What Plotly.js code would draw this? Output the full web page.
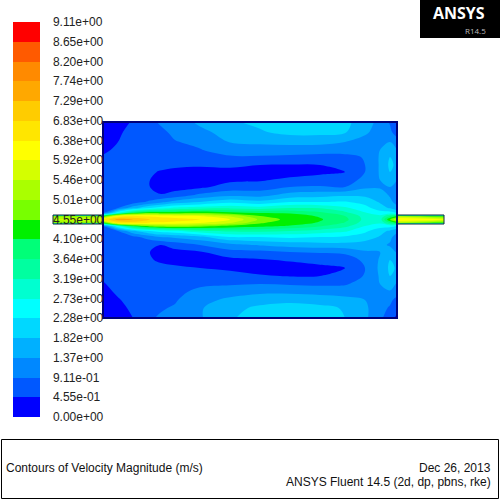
<!DOCTYPE html>
<html>
<head>
<meta charset="utf-8">
<script src="https://cdn.plot.ly/plotly-3.0.1.min.js"></script>
<style>
	html, body { margin: 0; padding: 0; background: #fff; }
	#chart { width: 500px; height: 500px; }
</style>
</head>
<body>
<div id="chart"></div>
<script>
// contour level of one band in m/s, the tables below are read as band numbers
var band_size = 0.4555;

var tick_labels = ['0.00e+00', '4.55e-01', '9.11e-01', '1.37e+00', '1.82e+00', '2.28e+00', '2.73e+00',
	'3.19e+00', '3.64e+00', '4.10e+00', '4.55e+00', '5.01e+00', '5.46e+00', '5.92e+00', '6.38e+00',
	'6.83e+00', '7.29e+00', '7.74e+00', '8.20e+00', '8.65e+00', '9.11e+00'];

var band_colors = ['#0000ff', '#0058ff', '#0088ff', '#00b0ff', '#00d8ff', '#00ffff', '#00ffd0', '#00ffa0',
	'#00ff78', '#00f000', '#78ff00', '#aaff00', '#d4ff00', '#ffff00', '#ffe600', '#ffcc00',
	'#ffa800', '#ff8a00', '#ff5a00', '#ff0000'];

// chamber
var chamber_x = [103, 118, 133, 150, 160, 175, 200, 230, 260, 290, 320, 345, 365, 380, 390, 397];
var chamber_y = [122, 132, 142, 150, 157, 165, 172, 180, 187, 195, 202, 208, 213, 216, 219.5, 223, 226,
	231, 237, 245, 252, 260, 268, 276, 284, 292, 300, 308, 318];

// one list per chamber_x, top wall to bottom wall
var chamber_bands = [
	[.2, .4, .6, .8, 1.1, 1.3, 1.4, 1.4, 1.4, 1.5, 1.5, 1.6, 1.8, 9, 14, 9, 2, 1.6, 1.5, 1.5, 1.4, 1.4, 1.4, 1.2, .9, .6, .4, .3, .1],
	[.6, .8, 1, 1.2, 1.4, 1.5, 1.5, 1.5, 1.5, 1.5, 1.5, 2, 6, 13.5, 16.5, 14, 6, 2, 1.5, 1.5, 1.5, 1.5, 1.5, 1.5, 1.4, 1.2, .9, .7, .5],
	[1.1, 1.4, 1.5, 1.4, 1.4, 1.4, 1.4, 1.4, 1.4, 1.4, 1.5, 3.6, 9, 14, 16, 14.5, 9, 3.8, 1.7, 1.5, 1.5, 1.5, 1.5, 1.5, 1.5, 1.5, 1.4, 1.2, 1],
	[1.8, 1.6, 1.5, 1.4, 1.3, 1.2, 1.1, 1, 1, 1.2, 2.2, 5, 10, 13.8, 15, 13.8, 10.5, 5, 2.5, 1.1, 1, 1.1, 1.3, 1.5, 1.5, 1.6, 1.7, 1.8, 1.9],
	[2.1, 1.8, 1.65, 1.5, 1.35, 1.2, .95, .7, .7, 1.05, 2.7, 5.5, 9.8, 13.6, 14.8, 13.8, 10.8, 5.4, 3, 1, .7, .85, 1.3, 1.5, 1.6, 1.6, 1.8, 1.9, 2.1],
	[2.5, 2.2, 1.95, 1.7, 1.4, 1.15, .8, .6, .7, 1.3, 3.4, 6.2, 9.7, 13.4, 14.5, 13.6, 11, 5.8, 3.2, 1.4, .7, .6, 1.2, 1.5, 1.6, 1.7, 1.9, 2.1, 2.4],
	[3.2, 2.75, 2.2, 1.95, 1.6, 1.1, .7, .6, .8, 2.2, 4, 6.5, 10, 13, 14, 13, 10.5, 6.8, 3.7, 2, .9, .6, 1, 1.6, 1.8, 2.3, 2.7, 2.9, 2.9],
	[3.9, 3.4, 3.05, 2.4, 1.9, 1.2, .7, .8, 1.4, 2.7, 4.7, 6.8, 9.4, 11.8, 13, 12, 9.7, 7.2, 5, 2.6, 1.7, .7, .8, 1.4, 1.9, 2.6, 3.2, 3.7, 3.9],
	[4.2, 3.9, 3.2, 2.5, 1.9, 1, .6, .9, 1.5, 2.6, 4.3, 6.5, 9, 10, 10.8, 10.1, 9.3, 7.3, 5, 3.1, 1.7, .9, .6, 1.1, 2, 2.8, 3.6, 4.2, 4.4],
	[4.6, 4.3, 3.3, 2.5, 1.8, .95, .6, 1.2, 2, 3.4, 5, 7, 8.9, 9.4, 9.6, 9.4, 8.9, 7, 5.2, 3.4, 2, 1.1, .6, .95, 1.9, 2.8, 3.7, 4.5, 4.6],
	[4.7, 4.3, 3.3, 2.4, 1.7, 1, .8, 1.4, 2.1, 3.6, 5, 6.9, 8.3, 8.9, 9.1, 8.9, 8.1, 6.6, 5, 3.6, 2.1, 1.3, .8, 1, 1.8, 2.7, 3.5, 4.3, 4.4],
	[4.2, 4.1, 3, 2.3, 1.8, 1.2, 1, 1.5, 2, 3.8, 5.1, 6.2, 7.3, 8, 8.3, 7.9, 7.3, 6.2, 4.8, 3.7, 2.2, 1.5, 1, 1.2, 1.9, 2.6, 3.3, 3.9, 4],
	[3.6, 3.2, 2.6, 2.3, 2.05, 2, 2, 2.3, 2.8, 3.8, 4.6, 5.4, 6.1, 6.6, 6.7, 6.5, 6, 5.2, 4.5, 3.5, 2.9, 2.2, 2, 2.1, 2.4, 2.7, 3, 3.2, 3.2],
	[2.6, 2.5, 2.9, 3, 3.1, 3.1, 3.1, 3, 2.9, 3.4, 3.9, 4.4, 5.5, 6.2, 6.5, 6.1, 5.4, 4.4, 3.9, 3.2, 3, 3.1, 3.2, 3.1, 3, 2.7, 2.5, 2.3, 2.2],
	[1.9, 2.2, 3, 3.6, 4, 4.2, 4, 3.4, 3, 2.9, 3.2, 3.9, 5.5, 8, 10, 8, 5.4, 3.8, 3.2, 2.9, 3.4, 4, 4.2, 4, 3.4, 2.9, 2.2, 1.9, 1.5],
	[.8, 1.5, 2.4, 3, 3.6, 3.8, 3.6, 3, 2.5, 2.4, 2.7, 3.2, 5, 9, 12, 9, 5, 3.2, 2.6, 2.4, 2.9, 3.6, 3.9, 3.6, 2.9, 2.4, 1.7, 1.4, .7]
];

// inlet and outlet pipes
var pipe_y = [215, 216.5, 219.5, 222.5, 224];
var inlet_x = [53, 103];
var inlet_bands = [[5, 11, 12, 11, 5], [5, 11, 13, 11, 5]];
var outlet_x = [397, 444];
var outlet_bands = [[5, 12, 14, 12, 5], [5, 10, 13, 10, 5]];

var to_speed = (bands) => bands.map((list) => list.map((b) => b * band_size));

// plotly picks a band's fill at s = (k + 1) / n, so each flat stretch is centred there
var color_scale = [];
band_colors.forEach((c, i) => {
	var n = band_colors.length;
	color_scale.push([i == 0 ? 0 : (i + 0.5) / n, c]);
	color_scale.push([i == n - 1 ? 1 : (i + 1.5) / n, c]);
});

function contour_trace(x, y, bands, with_bar)
{
	return {
		type: 'contour',
		x: x,
		y: y,
		z: to_speed(bands),
		transpose: true,
		zauto: false,
		zmin: 0,
		zmax: 9.11,
		colorscale: color_scale,
		autocontour: false,
		contours: {start: 0, end: 8.66, size: band_size, coloring: 'fill', showlines: false},
		line: {width: 0, smoothing: 1},
		hoverinfo: 'skip',
		showscale: with_bar,
		colorbar: {
			lenmode: 'pixels',
			len: 395,
			thicknessmode: 'pixels',
			thickness: 27,
			x: 13 / 500,
			xanchor: 'left',
			xpad: 0,
			y: 478 / 500,
			yanchor: 'top',
			ypad: 0,
			outlinewidth: 0,
			borderwidth: 0,
			tickmode: 'array',
			tickvals: tick_labels.map((t, i) => i * band_size),
			ticktext: tick_labels,
			ticks: 'outside',
			ticklen: 11,
			tickcolor: 'rgba(0,0,0,0)',
			tickfont: {family: 'Liberation Sans', size: 12, color: '#222'}
		}
	};
}

var data = [
	contour_trace(chamber_x, chamber_y, chamber_bands, true),
	contour_trace(inlet_x, pipe_y, inlet_bands, false),
	contour_trace(outlet_x, pipe_y, outlet_bands, false)
];

var layout = {
	width: 500,
	height: 500,
	margin: {l: 0, r: 0, t: 0, b: 0},
	paper_bgcolor: '#fff',
	plot_bgcolor: '#fff',
	xaxis: {range: [0, 500], visible: false, fixedrange: true},
	yaxis: {range: [500, 0], visible: false, fixedrange: true},
	showlegend: false,
	shapes: [
		{type: 'rect', xref: 'x', yref: 'y', x0: 103, x1: 397, y0: 122, y1: 318, line: {color: '#00007a', width: 2}},
		{type: 'rect', xref: 'x', yref: 'y', x0: 53, x1: 103, y0: 215, y1: 224, line: {color: '#102a3a', width: 1}},
		{type: 'rect', xref: 'x', yref: 'y', x0: 397, x1: 444, y0: 215, y1: 224, line: {color: '#102a3a', width: 1}},
		{type: 'rect', xref: 'x', yref: 'y', x0: 420, x1: 500, y0: 0, y1: 38, fillcolor: '#000', line: {width: 0}},
		{type: 'rect', xref: 'x', yref: 'y', x0: 1.5, x1: 498.5, y0: 439.5, y1: 498.5, line: {color: '#000', width: 1}}
	],
	annotations: [
		{xref: 'x', yref: 'y', x: 487, y: 13, xanchor: 'right', yanchor: 'middle', showarrow: false, text: '<b>ANSYS</b>',
			font: {family: 'Open Sans', size: 16, color: '#fff'}},
		{xref: 'x', yref: 'y', x: 488, y: 30, xanchor: 'right', yanchor: 'middle', showarrow: false, text: 'R14.5',
			font: {family: 'Open Sans', size: 8, color: '#bbb'}},
		{xref: 'x', yref: 'y', x: 4, y: 468, xanchor: 'left', yanchor: 'middle', showarrow: false, text: 'Contours of Velocity Magnitude (m/s)',
			font: {family: 'Liberation Sans', size: 12, color: '#111'}},
		{xref: 'x', yref: 'y', x: 493, y: 468, xanchor: 'right', yanchor: 'middle', showarrow: false, text: 'Dec 26, 2013',
			font: {family: 'Liberation Sans', size: 12, color: '#111'}},
		{xref: 'x', yref: 'y', x: 493, y: 482, xanchor: 'right', yanchor: 'middle', showarrow: false, text: 'ANSYS Fluent 14.5 (2d, dp, pbns, rke)',
			font: {family: 'Liberation Sans', size: 12, color: '#111'}}
	]
};

Plotly.newPlot('chart', data, layout, {displayModeBar: false, staticPlot: true});
</script>
</body>
</html>
